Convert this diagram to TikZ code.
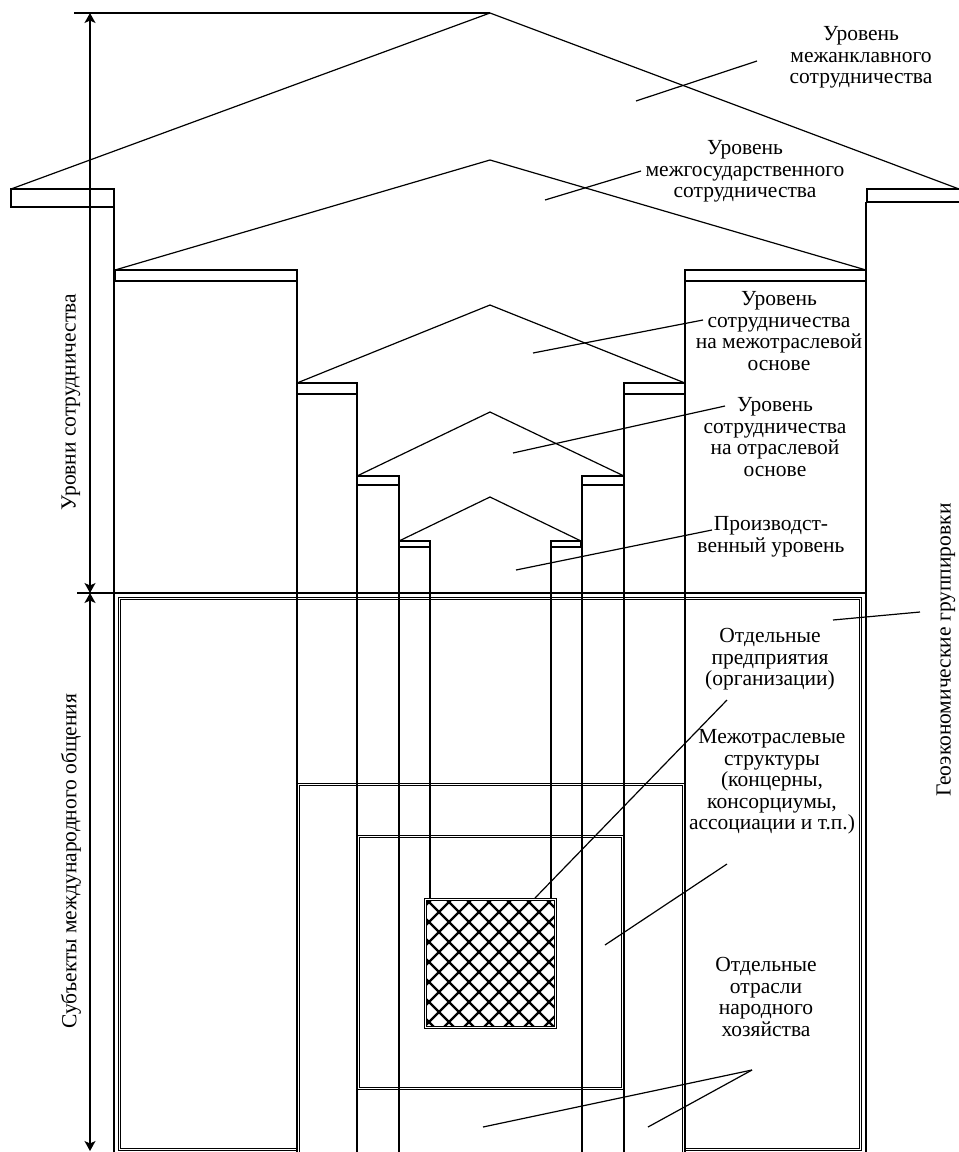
\documentclass[tikz,border=0pt]{standalone}
\usepackage{fontspec}
\setmainfont{Liberation Serif}
\usetikzlibrary{arrows.meta}
\newcommand\lbfont{\fontsize{21.5bp}{21.5bp}\selectfont}
\begin{document}
\begin{tikzpicture}[x=1bp,y=-1bp, line width=1.2bp,
  lbl/.style={font=\lbfont, align=center, inner sep=0pt},
  dbl/.style={double, double distance=1.1bp, line width=1bp},
  dimarrow/.style={{Stealth[length=10bp,width=11bp,inset=2.5bp]}-{Stealth[length=10bp,width=11bp,inset=2.5bp]}, line width=1.2bp},
  leader/.style={line width=1.2bp},
  hatch/.style={line width=2.4bp}]
\useasboundingbox (0,0) rectangle (959,1152);
\fill[white] (0,0) rectangle (959,1152);

% double-bordered rectangles
\draw[dbl] (119.5,1149.5) -- (119.5,598.5) -- (860.5,598.5) -- (860.5,1149.5) -- cycle;
\draw[dbl,fill=white] (298.5,1170) -- (298.5,784.5) -- (683.5,784.5) -- (683.5,1170);
\draw[dbl] (358.5,836.5) rectangle (622.5,1088.5);

% roofs and eaves
\draw (11,189) -- (490,13) -- (959,189);
\draw (11,189) rectangle (114,207);
\draw (867,189) rectangle (965,202);
\draw (115,270) -- (490,160) -- (866,270);
\draw (115,270) rectangle (297,281);
\draw (685,270) rectangle (866,281);
\draw (297,383) -- (490,305) -- (685,383);
\draw (297,383) rectangle (357,394);
\draw (624,383) rectangle (685,394);
\draw (357,476) -- (490,412) -- (624,476);
\draw (357,476) rectangle (399,485);
\draw (582,476) rectangle (624,485);
\draw (399,541) -- (490,497) -- (581,541);
\draw (399,541) rectangle (430,547);
\draw (551,541) rectangle (581,547);

% walls
\draw (114,207) -- (114,1170);
\draw (866,202) -- (866,1170);
\draw (297,281) -- (297,1170);
\draw (685,281) -- (685,1170);
\draw (357,394) -- (357,1170);
\draw (624,394) -- (624,1170);
\draw (399,485) -- (399,1170);
\draw (582,485) -- (582,1170);
\draw (430,547) -- (430,898);
\draw (551,547) -- (551,898);

% horizontal reference lines
\draw (74,13) -- (490,13);
\draw (77,593) -- (866,593);

% hatched square
\begin{scope}
\clip (425.5,899.5) rectangle (555.5,1027.5);
\fill[white] (425.5,899.5) rectangle (555.5,1027.5);
\foreach \c in {1291,1311,...,1611} \draw[hatch] ({\c-880},880) -- ({\c-1050},1050);
\foreach \e in {-633,-613,...,-313} \draw[hatch] ({\e+880},880) -- ({\e+1050},1050);
\end{scope}
\draw[dbl] (425.5,899.5) rectangle (555.5,1027.5);

% dimension arrows
\draw[dimarrow] (90,13) -- (90,593);
\draw[dimarrow] (90,593) -- (90,1151);

% labels
\node[lbl, anchor=north] (lA) at (861,26) {Уровень\\межанклавного\\сотрудничества};
\node[lbl, anchor=north] (lB) at (745,140) {Уровень\\межгосударственного\\сотрудничества};
\node[lbl, anchor=north] (lC) at (779,291) {Уровень\\сотрудничества\\на межотраслевой\\основе};
\node[lbl, anchor=north] (lD) at (775,397) {Уровень\\сотрудничества\\на отраслевой\\основе};
\node[lbl, anchor=north] (lE) at (771,516) {Производст-\\венный уровень};
\node[lbl, anchor=north] (lF) at (770,628) {Отдельные\\предприятия\\(организации)};
\node[lbl, anchor=north] (lG) at (772,729) {Межотраслевые\\структуры\\(концерны,\\консорциумы,\\ассоциации и т.п.)};
\node[lbl, anchor=north] (lH) at (766,957) {Отдельные\\отрасли\\народного\\хозяйства};
\node[lbl, rotate=90] (lV) at (71,402) {Уровни сотрудничества};
\node[lbl, rotate=90] (lS) at (71,861) {Субъекты международного общения};
\node[lbl, rotate=90] (lGeo) at (946,650) {Геоэкономические группировки};

% leader lines
\coordinate (a1) at (757,61);  \coordinate (a2) at (636,101);
\coordinate (b1) at (641,171); \coordinate (b2) at (545,200);
\coordinate (c1) at (703,320); \coordinate (c2) at (533,353);
\coordinate (d1) at (725,406); \coordinate (d2) at (513,453);
\coordinate (e1) at (712,530); \coordinate (e2) at (516,570);
\coordinate (g1) at (920,612); \coordinate (g2) at (833,620);
\coordinate (f1) at (727,700); \coordinate (f2) at (535,898);
\coordinate (m1) at (727,864); \coordinate (m2) at (605,945);
\coordinate (h0) at (752,1070); \coordinate (h1) at (483,1127); \coordinate (h2) at (648,1127);
\draw[leader] (a1) -- (a2);
\draw[leader] (b1) -- (b2);
\draw[leader] (c1) -- (c2);
\draw[leader] (d1) -- (d2);
\draw[leader] (e1) -- (e2);
\draw[leader] (g1) -- (g2);
\draw[leader] (f1) -- (f2);
\draw[leader] (m1) -- (m2);
\draw[leader] (h0) -- (h1);
\draw[leader] (h0) -- (h2);
\end{tikzpicture}
\end{document}
